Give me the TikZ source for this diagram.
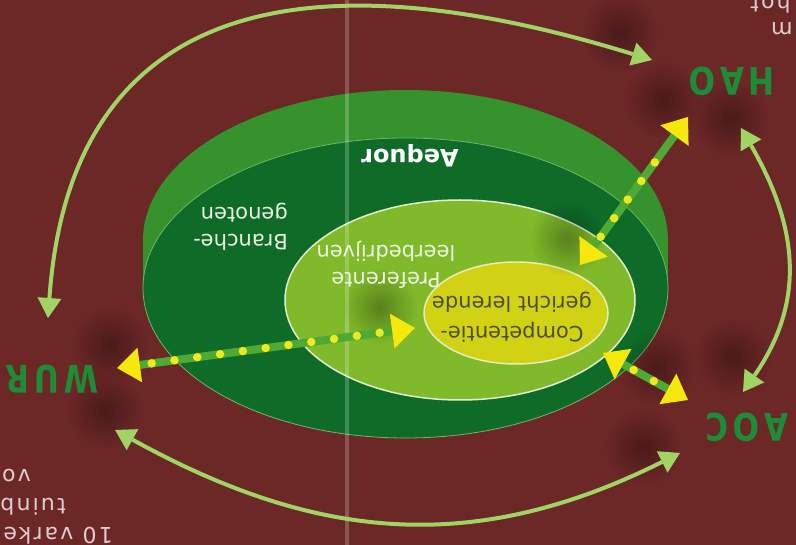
\documentclass[tikz,border=0pt]{standalone}
\usepackage{fontspec}
\usetikzlibrary{arrows.meta,fadings}
\newfontfamily\djv{DejaVu Sans}
\newfontfamily\djvwide{DejaVu Sans}[LetterSpace=14]
\newfontfamily\djvpage{DejaVu Sans}[LetterSpace=10]
\definecolor{maroonbg}{RGB}{108,39,39}
\definecolor{sidegreen}{RGB}{54,146,44}
\definecolor{topgreen}{RGB}{14,108,40}
\definecolor{lightgreen}{RGB}{128,186,42}
\definecolor{yellowin}{RGB}{210,210,20}
\definecolor{linegreen}{RGB}{78,170,52}
\definecolor{dotyellow}{RGB}{240,232,30}
\definecolor{arrowyellow}{RGB}{246,232,12}
\definecolor{arcgreen}{RGB}{160,212,100}
\definecolor{instgreen}{RGB}{28,140,55}
\definecolor{pagetext}{RGB}{222,205,208}
\definecolor{lighttext}{RGB}{238,242,228}
\definecolor{darktext}{RGB}{78,78,40}
\tikzfading[name=softblob, inner color=transparent!0, outer color=transparent!100]
\begin{document}
\begin{tikzpicture}[x=1pt,y=-1pt,
  arcarrow/.style={draw=arcgreen, line width=4pt,
    {Triangle[length=20pt,width=24pt,line width=0pt]}-{Triangle[length=20pt,width=24pt,line width=0pt]}},
  dotarrow/.style={draw=linegreen, line width=8pt,
    {Triangle[length=23pt,width=35pt,line width=0pt,color=arrowyellow]}-{Triangle[length=23pt,width=35pt,line width=0pt,color=arrowyellow]}},
  dotfill/.style={draw=dotyellow, line width=8.5pt, line cap=round, dash pattern=on 0pt off 23pt,
    shorten <=35pt, shorten >=34pt},
  inst/.style={rotate=180, xscale=0.82, text=instgreen, inner sep=0pt,
    font=\djvwide\bfseries\fontsize{38}{40}\selectfont},
  ringlabel/.style={rotate=180, inner sep=0pt, text=lighttext,
    font=\djv\fontsize{21}{27}\selectfont},
  pagelabel/.style={rotate=180, inner sep=0pt, text=pagetext,
    font=\djvpage\fontsize{22}{26}\selectfont},
  shadowblob/.style={fill=black, opacity=0.3, path fading=softblob}
]
\useasboundingbox (0,0) rectangle (796,545);
\fill[maroonbg] (0,0) rectangle (796,545);

% cylinder
\fill[sidegreen] (405.5,240) ellipse [x radius=262.5pt, y radius=150pt];
\fill[sidegreen] (143,240) rectangle (668,288);
\filldraw[fill=topgreen, draw=sidegreen!70!white, line width=0.8pt] (405.5,288) ellipse [x radius=262.5pt, y radius=150pt];
\filldraw[fill=lightgreen, draw=lighttext!90!lightgreen, line width=1.5pt] (460,300) ellipse [x radius=175pt, y radius=100pt];
\filldraw[fill=yellowin, draw=lighttext!80!yellowin, line width=1.5pt] (516,313) ellipse [x radius=92pt, y radius=51pt];

% soft shadows
\foreach \sx/\sy in {620/33, 663/100, 567/238, 110/345, 105/410, 730/118, 733/357, 657/367, 643/447, 380/307}
  \fill[shadowblob] (\sx,\sy) circle (38pt);

% crease in the print
\fill[white, opacity=0.22] (345,0) rectangle (349,545);

% labels
\node[ringlabel, font=\djv\bfseries\fontsize{24}{28}\selectfont, text=white] (aequor) at (410,156) {Aequor};
\node[ringlabel, align=left] (branche) at (240.5,227) {Branche-\\genoten};
\node[ringlabel, align=center] (pref) at (386,265) {Preferente\\leerbedrijven};
\node[ringlabel, align=center, text=darktext, font=\djv\fontsize{21}{30}\selectfont] (comp) at (512,317) {Competentie-\\gericht lerende};

\node[inst] (wur) at (52,379) {WUR};
\node[inst] (hao) at (732,81) {HAO};
\node[inst] (aoc) at (747,427) {AOC};

\node[pagelabel, anchor=base west] (p1) at (113,527) {10 varke};
\node[pagelabel, anchor=base west] (p2) at (66,498) {tuinb};
\node[pagelabel, anchor=base west] (p3) at (31,470) {vo};
\node[pagelabel, anchor=base east] (p4) at (750,-3) {hot};
\node[pagelabel, anchor=base east] (p5) at (771,23) {m};

% curved arrows
\coordinate (ta1) at (48,318);
\coordinate (ta2) at (652,60);
\coordinate (ba1) at (115,430);
\coordinate (ba2) at (680,453);
\coordinate (ra1) at (741,128);
\coordinate (ra2) at (743,392);
\draw[arcarrow] (ta1) .. controls (75,-60) and (402,-17) .. (ta2);
\draw[arcarrow] (ba1) .. controls (316,541) and (474,556) .. (ba2);
\draw[arcarrow] (ra1) .. controls (797,225) and (807,300) .. (ra2);

% dotted double arrows
\coordinate (w1) at (117,368);
\coordinate (w2) at (415,328);
\coordinate (h1) at (580,265);
\coordinate (h2) at (688,117);
\coordinate (a1) at (603,353);
\coordinate (a2) at (688,400);
\draw[dotarrow] (w1) -- (w2);
\draw[dotfill] (w1) -- (w2);
\draw[dotarrow] (h1) -- (h2);
\draw[dotfill] (h1) -- (h2);
\draw[dotarrow] (a1) -- (a2);
\draw[dotfill] (a1) -- (a2);
\end{tikzpicture}
\end{document}
